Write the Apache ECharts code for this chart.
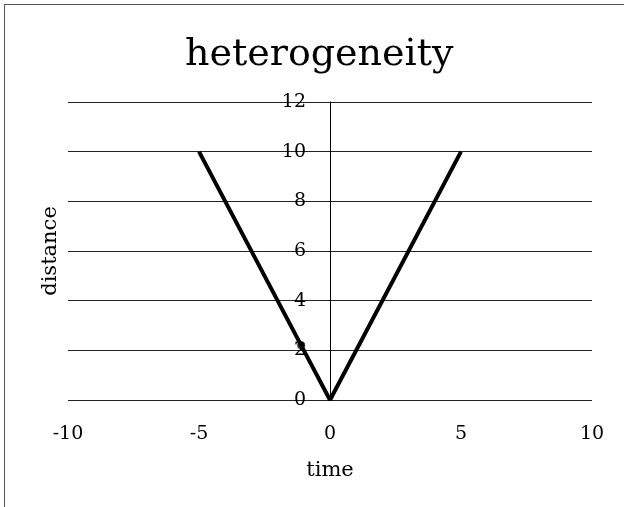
<!DOCTYPE html>
<html>
<head>
<meta charset="utf-8">
<script src="https://cdn.jsdelivr.net/npm/echarts@6/dist/echarts.min.js"></script>
<style>
  html, body { margin: 0; padding: 0; background: #fff; }
  #frame { position: absolute; left: 4px; top: 4px; width: 620px; height: 503px;
           border-left: 1px solid #555; border-top: 1px solid #555; }
  #main { position: absolute; left: 0; top: 0; width: 624px; height: 507px; }
</style>
</head>
<body>
<div id="frame"></div>
<div id="main"></div>
<script>
  // distance vs time, V shape
  const lineData = [[-5, 10], [-1.1, 2.2], [0, 0], [5, 10]];
  const dotData = [[-1.1, 2.2]];
  const xTicks = { min: -10, max: 10, step: 5 };
  const yTicks = { min: 0, max: 12, step: 2 };

  const serif = '"DejaVu Serif", serif';
  const chart = echarts.init(document.getElementById('main'));

  chart.setOption({
    animation: false,
    title: {
      text: 'heterogeneity',
      left: 180,
      top: 31,
      textStyle: { fontFamily: serif, fontSize: 38, fontWeight: 'normal', color: '#000' }
    },
    grid: { left: 68, right: 32, top: 102, bottom: 107, outerBoundsMode: 'none', containLabel: false },
    xAxis: {
      type: 'value',
      min: xTicks.min, max: xTicks.max, interval: xTicks.step,
      name: 'time',
      nameLocation: 'middle',
      nameGap: 60,
      nameTextStyle: { fontFamily: serif, fontSize: 21, color: '#000' },
      axisLine: { show: false },
      axisTick: { show: false },
      splitLine: { show: false },
      axisLabel: { fontFamily: serif, fontSize: 19, color: '#000', margin: 25 }
    },
    yAxis: {
      type: 'value',
      min: yTicks.min, max: yTicks.max, interval: yTicks.step,
      // y axis sits at time = 0, the middle of the plot
      offset: -262,
      name: 'distance',
      nameLocation: 'middle',
      nameGap: 269,
      nameTextStyle: { fontFamily: serif, fontSize: 21, color: '#000' },
      axisLine: { show: true, onZero: false, lineStyle: { color: '#000', width: 1 } },
      axisTick: { show: false },
      splitLine: { show: true, lineStyle: { color: '#222', width: 1 } },
      axisLabel: { fontFamily: serif, fontSize: 19, color: '#000', margin: 24 }
    },
    series: [
      {
        type: 'line',
        data: lineData,
        showSymbol: false,
        lineStyle: { color: '#000', width: 4 },
        z: 3
      },
      {
        type: 'scatter',
        data: dotData,
        symbolSize: 8,
        itemStyle: { color: '#000' },
        z: 4
      }
    ]
  });
</script>
</body>
</html>
